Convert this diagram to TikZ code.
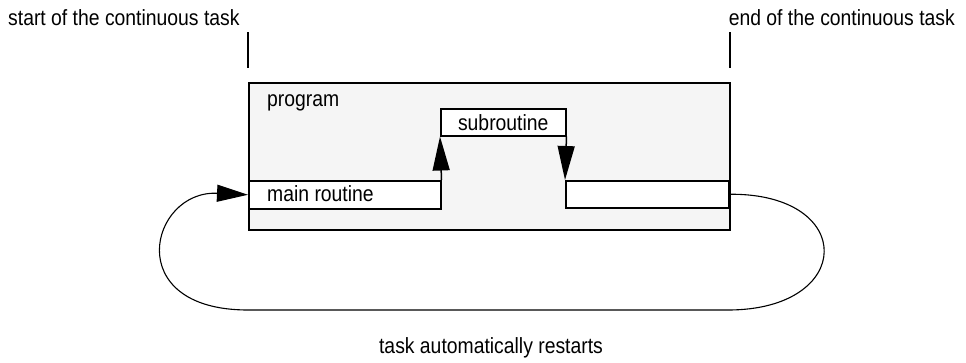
\documentclass[tikz,border=0pt]{standalone}
\usepackage{fontspec}
\setmainfont[FakeStretch=0.88]{Liberation Sans}
\usetikzlibrary{positioning,arrows.meta}

\tikzstyle{caption} = [font=\fontsize{22}{24}\selectfont, inner sep=0pt]
\tikzstyle{progbox} = [draw, line width=1.5pt, fill=gray!8, anchor=north west, inner sep=0pt]
\tikzstyle{routine} = [draw, line width=1.5pt, fill=white, anchor=north west, inner sep=0pt]
\tikzstyle{arrowdecorate} = [line width=1.5pt, -{Triangle[length=34pt,width=17pt]}]
\tikzstyle{loopline} = [line width=1.1pt, -{Triangle[length=31pt,width=17pt]}]

\begin{document}
\begin{tikzpicture}[x=1pt,y=-1pt]
  \useasboundingbox (0,0) rectangle (966,362);
  %% boxes
  \node[progbox, minimum width=481, minimum height=147] (program) at (248,82) {};
  \node[caption, anchor=west] (progname) at (267,103) {program};
  \foreach \nodename/\x/\y/\w/\h in {
    main/248/180/192/28,
    sub/440/108/125/27,
    rest/565/180/163/27}
  {
    \node[routine, minimum width=\w, minimum height=\h] (\nodename) at (\x,\y) {};
  }
  \node[caption, anchor=west] (maintext) at (267,194) {main routine};
  \node[caption] (subtext) at (sub.center) {subroutine};
  % arrows inside the program
  \draw[arrowdecorate] (main.north east) -- (sub.south west);
  \draw[arrowdecorate] (sub.south east) -- (rest.north west);
  % start and end marks
  \node[caption, anchor=west] (start) at (8,18) {start of the continuous task};
  \node[caption, anchor=east] (end) at (955,18) {end of the continuous task};
  \foreach \name/\x in {starttick/248, endtick/730}
  {
    \coordinate (\name top) at (\x,32);
    \coordinate (\name bot) at (\x,68);
    \draw[line width=1.5pt] (\name top) -- (\name bot);
  }
  % restart loop
  \coordinate (loopright) at (728,310);
  \coordinate (loopleft) at (248,310);
  \draw[loopline] (rest.east) .. controls (857,193) and (855,310) .. (loopright)
    -- (loopleft) .. controls (120,310) and (150,190) .. (main.west);
  \node[caption] (restart) at (491,348) {task automatically restarts};
\end{tikzpicture}
\end{document}
